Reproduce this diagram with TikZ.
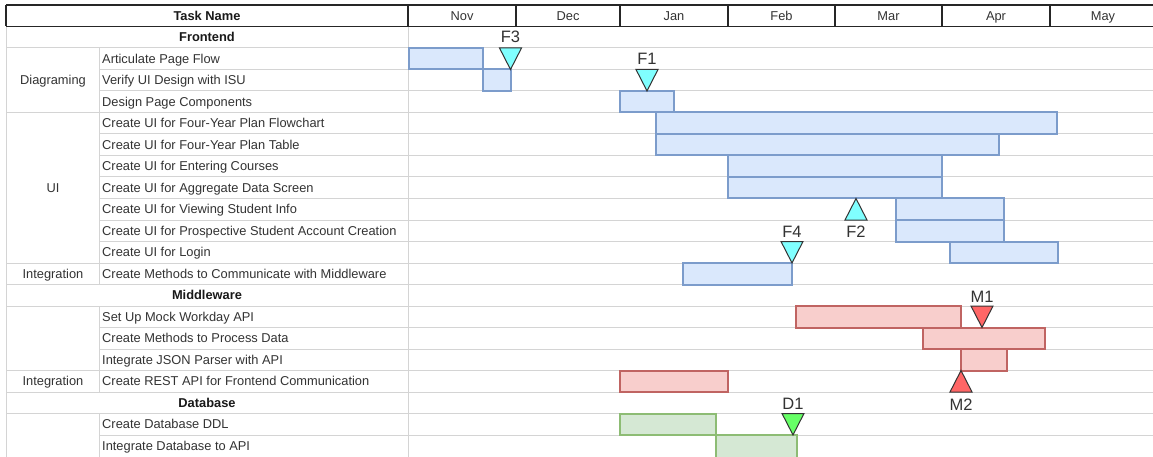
\documentclass[tikz,border=0pt]{standalone}
\usepackage{fontspec}
\setmainfont{Liberation Sans}
\definecolor{gridgray}{HTML}{D4D4D4}
\definecolor{txtgray}{HTML}{333333}
\definecolor{bfill}{HTML}{DAE8FC}
\definecolor{bstroke}{HTML}{7C9CCB}
\definecolor{rfill}{HTML}{F8CECC}
\definecolor{rstroke}{HTML}{C06462}
\definecolor{gfill}{HTML}{D5E8D4}
\definecolor{gstroke}{HTML}{8DBC74}
\definecolor{mcyan}{HTML}{80FFFF}
\definecolor{mred}{HTML}{FF6666}
\definecolor{mgreen}{HTML}{66FF66}
\begin{document}
\begin{tikzpicture}[x=1pt,y=-1pt,
  gridline/.style={draw=gridgray, line width=1pt},
  hdrline/.style={draw=black!85, line width=1.3pt},
  tasktext/.style={anchor=base west, inner sep=0pt, yshift=-4.7pt, text=txtgray, font=\fontsize{12.85}{14}\selectfont},
  ctext/.style={anchor=base, inner sep=0pt, yshift=-4.7pt, text=txtgray, font=\fontsize{12.85}{14}\selectfont},
  btext/.style={anchor=base, inner sep=0pt, yshift=-4.7pt, text=black!90, font=\bfseries\fontsize{12.85}{14}\selectfont},
  mklabel/.style={anchor=base, inner sep=0pt, yshift=-6pt, text=black!80, font=\fontsize{16.5}{18}\selectfont},
  bluebar/.style={fill=bfill, draw=bstroke, line width=2pt},
  redbar/.style={fill=rfill, draw=rstroke, line width=2pt},
  greenbar/.style={fill=gfill, draw=gstroke, line width=2pt},
  mk/.style={draw=black!80, line width=1pt, line join=miter}
]
\useasboundingbox (0,0) rectangle (1153,457);
\fill[white] (0,0) rectangle (1153,457);

% ---------- grid lines ----------
\foreach \i in {2,...,20} {
  \pgfmathsetmacro{\yy}{5+21.5*\i}
  \draw[gridline] (408,\yy) -- (1153,\yy);
}
\foreach \i in {2,5,12,13,14,17,18,19} {
  \pgfmathsetmacro{\yy}{5+21.5*\i}
  \draw[gridline] (6,\yy) -- (408,\yy);
}
\foreach \i in {3,4,6,7,8,9,10,11,15,16,20} {
  \pgfmathsetmacro{\yy}{5+21.5*\i}
  \draw[gridline] (99.5,\yy) -- (408,\yy);
}
\draw[gridline] (6,26.5) -- (6,457);
\draw[gridline] (408,26.5) -- (408,457);
\draw[gridline] (99.5,48) -- (99.5,284.5);
\draw[gridline] (99.5,306) -- (99.5,392);
\draw[gridline] (99.5,413.5) -- (99.5,457);

% ---------- header ----------
\draw[hdrline] (6,5) -- (1153,5);
\draw[hdrline] (6,26.5) -- (1153,26.5);
\draw[hdrline] (6,5) -- (6,26.5);
\foreach \xx in {408,516,620,728,835,942,1050} {
  \draw[hdrline] (\xx,5) -- (\xx,26.5);
}
\node[btext] (hTask) at (207,15.75) {Task Name};
\node[ctext] (hNov) at (462,15.75) {Nov};
\node[ctext] (hDec) at (568,15.75) {Dec};
\node[ctext] (hJan) at (674,15.75) {Jan};
\node[ctext] (hFeb) at (781.5,15.75) {Feb};
\node[ctext] (hMar) at (888.5,15.75) {Mar};
\node[ctext] (hApr) at (996,15.75) {Apr};
\node[ctext] (hMay) at (1103,15.75) {May};

% ---------- sections and groups ----------
\node[btext] (sFront) at (207,37.25) {Frontend};
\node[btext] (sMid) at (207,295.25) {Middleware};
\node[btext] (sDB) at (207,402.75) {Database};
\node[ctext] (gDiag) at (53,80.25) {Diagraming};
\node[ctext] (gUI) at (53,187.75) {UI};
\node[ctext] (gInt1) at (53,273.75) {Integration};
\node[ctext] (gInt2) at (53,381.25) {Integration};

% ---------- tasks ----------
\node[tasktext] (t2) at (102,58.75) {Articulate Page Flow};
\node[tasktext] (t3) at (102,80.25) {Verify UI Design with ISU};
\node[tasktext] (t4) at (102,101.75) {Design Page Components};
\node[tasktext] (t5) at (102,123.25) {Create UI for Four-Year Plan Flowchart};
\node[tasktext] (t6) at (102,144.75) {Create UI for Four-Year Plan Table};
\node[tasktext] (t7) at (102,166.25) {Create UI for Entering Courses};
\node[tasktext] (t8) at (102,187.75) {Create UI for Aggregate Data Screen};
\node[tasktext] (t9) at (102,209.25) {Create UI for Viewing Student Info};
\node[tasktext] (t10) at (102,230.75) {Create UI for Prospective Student Account Creation};
\node[tasktext] (t11) at (102,252.25) {Create UI for Login};
\node[tasktext] (t12) at (102,273.75) {Create Methods to Communicate with Middleware};
\node[tasktext] (t14) at (102,316.75) {Set Up Mock Workday API};
\node[tasktext] (t15) at (102,338.25) {Create Methods to Process Data};
\node[tasktext] (t16) at (102,359.75) {Integrate JSON Parser with API};
\node[tasktext] (t17) at (102,381.25) {Create REST API for Frontend Communication};
\node[tasktext] (t19) at (102,424.25) {Create Database DDL};
\node[tasktext] (t20) at (102,445.75) {Integrate Database to API};

% ---------- bars ----------
\path[bluebar] (409,48) rectangle (483,69.5);
\path[bluebar] (483,69.5) rectangle (510.5,91);
\path[bluebar] (620,91) rectangle (674,112.5);
\path[bluebar] (655.5,112.5) rectangle (1057,134);
\path[bluebar] (655.5,134) rectangle (999,155.5);
\path[bluebar] (728,155.5) rectangle (942,177);
\path[bluebar] (728,177) rectangle (942,198.5);
\path[bluebar] (896,198.5) rectangle (1004,220);
\path[bluebar] (896,220) rectangle (1004,241.5);
\path[bluebar] (950,241.5) rectangle (1058,263);
\path[bluebar] (682.5,263) rectangle (792,284.5);

\path[redbar] (796,306) rectangle (961,327.5);
\path[redbar] (923,327.5) rectangle (1045,349);
\path[redbar] (961,349) rectangle (1007,370.5);
\path[redbar] (620,370.5) rectangle (728,392);

\path[greenbar] (620,413.5) rectangle (716,435);
\path[greenbar] (716,435) rectangle (796.5,458);

% ---------- milestones ----------
\path[mk, fill=mcyan] (510.5,69.5) -- (499.5,48) -- (521.5,48) -- cycle;
\node[mklabel] (lF3) at (510.5,37) {F3};
\path[mk, fill=mcyan] (647,91) -- (636,69.5) -- (658,69.5) -- cycle;
\node[mklabel] (lF1) at (647,58.5) {F1};
\path[mk, fill=mcyan] (792,263) -- (781,241.5) -- (803,241.5) -- cycle;
\node[mklabel] (lF4) at (792,231) {F4};
\path[mk, fill=mcyan] (856,198.5) -- (845,220) -- (867,220) -- cycle;
\node[mklabel] (lF2) at (856,231) {F2};

\path[mk, fill=mred] (982,327.5) -- (971,306) -- (993,306) -- cycle;
\node[mklabel] (lM1) at (982,296) {M1};
\path[mk, fill=mred] (961,370.5) -- (950,392) -- (972,392) -- cycle;
\node[mklabel] (lM2) at (961,404.5) {M2};

\path[mk, fill=mgreen] (793,435) -- (782,413.5) -- (804,413.5) -- cycle;
\node[mklabel] (lD1) at (793,403.5) {D1};
\end{tikzpicture}
\end{document}
